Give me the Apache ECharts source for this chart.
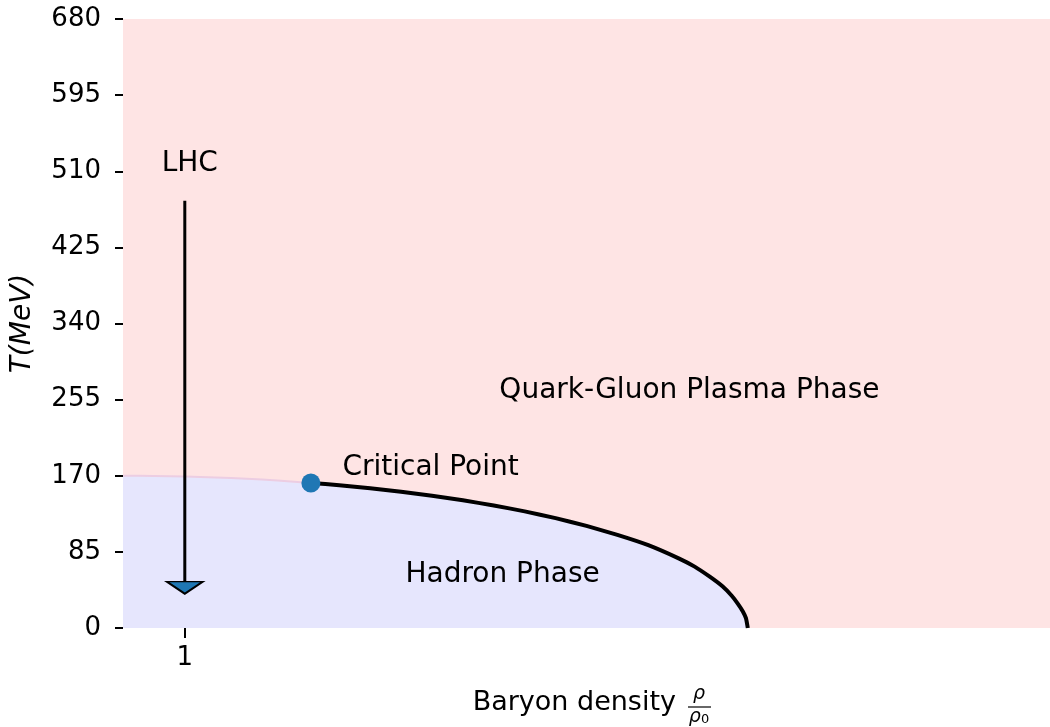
<!DOCTYPE html>
<html>
<head>
<meta charset="utf-8">
<script src="https://cdn.jsdelivr.net/npm/echarts@6.0.0/dist/echarts.min.js"></script>
<style>
  html, body { margin: 0; padding: 0; background: #fff; }
  #phase { width: 1050px; height: 727px; }
</style>
</head>
<body>
<div id="phase"></div>
<script>
// values
const xTicks = [1]
const boundaryX = [0, 0.5, 1, 1.5, 2, 2.5, 3.04, 3.5, 4, 4.5, 5, 5.5, 6, 6.5, 7, 7.5, 8, 8.5, 9, 9.25, 9.5, 9.7, 9.85, 9.95, 10.03, 10.08, 10.11]
const boundaryT = [170, 169.8, 169.2, 168.1, 166.6, 164.7, 162, 159.5, 156.1, 152.2, 147.7, 142.6, 136.8, 130.2, 122.7, 114, 104, 92.5, 77.5, 68.5, 57, 46.5, 36, 27, 18.5, 11, 0]
const criticalPoint = [3.04, 162]
const lhcArrow = [[1, 477], [1, 46]]
const lhcHead = [1, 45]
const labels = [
  {name: 'LHC', value: [1.08, 518], align: 'center'},
  {name: 'Critical Point', value: [3.55, 179], align: 'left'},
  {name: 'Quark-Gluon Plasma Phase', value: [6.09, 265], align: 'left'},
  {name: 'Hadron Phase', value: [4.57, 60], align: 'left'}
]

const font = 'DejaVu Sans'
const boundary = boundaryX.map((x, i) => [x, boundaryT[i]])
const firstOrder = boundary.filter(p => p[0] >= criticalPoint[0])

const chart = echarts.init(document.getElementById('phase'), null, {renderer: 'canvas'})
chart.setOption({
  animation: false,
  textStyle: {fontFamily: font},
  grid: {left: 123, right: 0, top: 19, bottom: 99},
  xAxis: {
    type: 'value',
    min: 0,
    max: 15,
    axisLine: {show: false},
    splitLine: {show: false},
    axisTick: {show: true, customValues: xTicks, length: 10, lineStyle: {color: '#000', width: 2}},
    axisLabel: {customValues: xTicks, color: '#000', fontSize: 26, margin: 17, fontFamily: font}
  },
  yAxis: {
    type: 'value',
    min: 0,
    max: 680,
    interval: 85,
    name: 'T(MeV)',
    nameLocation: 'middle',
    nameRotate: 90,
    nameGap: 86,
    nameTextStyle: {color: '#000', fontSize: 28, fontStyle: 'italic', fontFamily: font},
    axisLine: {show: false},
    splitLine: {show: false},
    axisTick: {show: true, length: 8, lineStyle: {color: '#000', width: 2}},
    axisLabel: {color: '#000', fontSize: 26, margin: 22, fontFamily: font}
  },
  graphic: [
    {type: 'text', x: 676, y: 703, style: {text: 'Baryon density', fill: '#000', font: '27px "DejaVu Sans"', align: 'right', verticalAlign: 'middle'}},
    {type: 'text', x: 699, y: 694, style: {text: 'ρ', fill: '#000', font: 'italic 19px "DejaVu Sans"', align: 'center', verticalAlign: 'middle'}},
    {type: 'line', shape: {x1: 688, y1: 707, x2: 711, y2: 707}, style: {stroke: '#000', lineWidth: 1.2}},
    {
      type: 'text', x: 699, y: 717,
      style: {
        text: '{r|ρ}{s|0}',
        fill: '#000',
        align: 'center',
        verticalAlign: 'middle',
        rich: {
          r: {font: 'italic 19px "DejaVu Sans"', fill: '#000'},
          s: {font: '13px "DejaVu Sans"', fill: '#000', padding: [6, 0, 0, 0]}
        }
      }
    }
  ],
  series: [
    { // quark-gluon plasma region
      type: 'line',
      data: [[0, 680], [15, 680]],
      showSymbol: false,
      lineStyle: {width: 0},
      areaStyle: {color: '#fee4e4', opacity: 1},
      z: 1
    },
    { // hadron region
      type: 'line',
      data: boundary,
      smooth: 0.15,
      showSymbol: false,
      lineStyle: {width: 2, color: '#eccde2'},
      areaStyle: {color: '#e6e6fd', opacity: 1},
      z: 2
    },
    { // first order transition line
      type: 'line',
      data: firstOrder,
      smooth: 0.15,
      showSymbol: false,
      lineStyle: {width: 4, color: '#000'},
      z: 3
    },
    {
      type: 'line',
      data: lhcArrow,
      showSymbol: false,
      lineStyle: {width: 3, color: '#000'},
      z: 4
    },
    {
      type: 'scatter',
      data: [lhcHead],
      symbol: 'triangle',
      symbolRotate: 180,
      symbolSize: [36, 12],
      itemStyle: {color: '#1f77b4', borderColor: '#000', borderWidth: 2, opacity: 1},
      z: 5
    },
    {
      type: 'scatter',
      data: [criticalPoint],
      symbolSize: 19,
      itemStyle: {color: '#1f77b4', opacity: 1},
      z: 6
    },
    {
      type: 'scatter',
      data: labels.map(l => ({
        name: l.name,
        value: l.value,
        label: {align: l.align}
      })),
      symbolSize: 0,
      silent: true,
      itemStyle: {opacity: 1},
      label: {
        show: true,
        position: [0, 0],
        formatter: '{b}',
        verticalAlign: 'middle',
        color: '#000',
        opacity: 1,
        fontSize: 28,
        fontFamily: font
      },
      z: 7
    }
  ]
})
</script>
</body>
</html>
